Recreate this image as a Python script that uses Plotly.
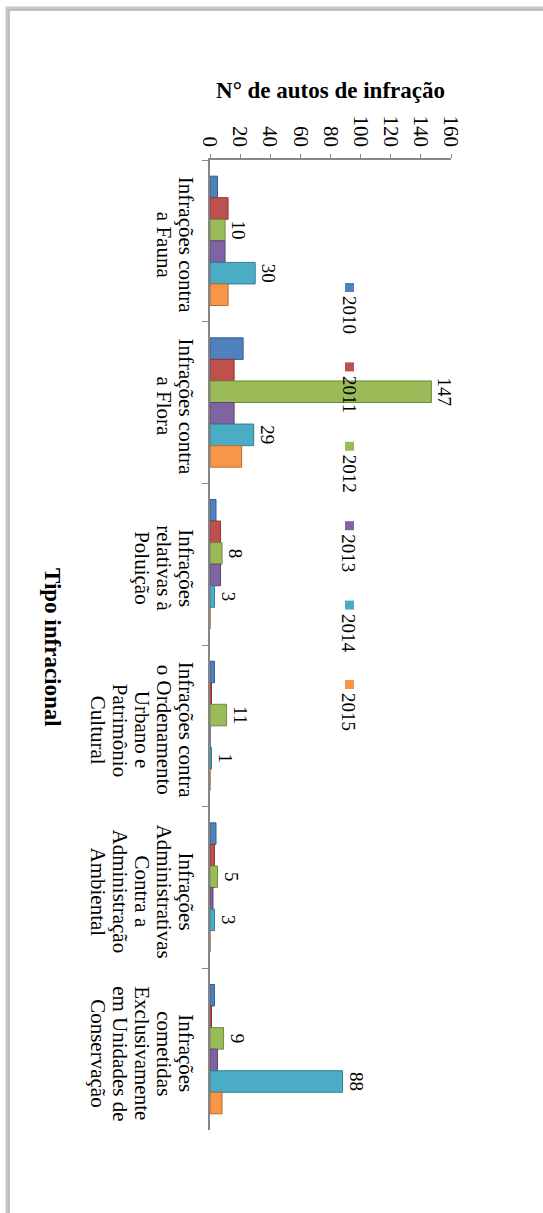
import plotly.graph_objects as go

# Categories of infraction (wrapped labels for the category axis)
categorias = [
    "Infrações contra<br>a Fauna",
    "Infrações contra<br>a Flora",
    "Infrações<br>relativas à<br>Poluição",
    "Infrações contra<br>o Ordenamento<br>Urbano e<br>Patrimônio<br>Cultural",
    "Infrações<br>Administrativas<br>Contra a<br>Administração<br>Ambiental",
    "Infrações<br>cometidas<br>Exclusivamente<br>em Unidades de<br>Conservação",
]

anos = ["2010", "2011", "2012", "2013", "2014", "2015"]

v2010 = [5, 22, 4, 3, 4, 3]
v2011 = [12, 16, 7, 1, 3, 1]
v2012 = [10, 147, 8, 11, 5, 9]
v2013 = [10, 16, 7, 0, 2, 5]
v2014 = [30, 29, 3, 1, 3, 88]
v2015 = [12, 21, 0, 0, 0, 8]

series = [v2010, v2011, v2012, v2013, v2014, v2015]
rotulados = {"2012", "2014"}  # series with data labels

cores = ["#4F81BD", "#C0504D", "#9BBB59", "#8064A2", "#4BACC6", "#F79646"]
bordas = ["#385D8A", "#8C3836", "#71893F", "#5C4776", "#357D91", "#B66D31"]

ticks_valor = [0, 20, 40, 60, 80, 100, 120, 140, 160]

W, H = 543, 1213
ML, MR, MT, MB = 210, 92, 160, 83
PW, PH = W - ML - MR, H - MT - MB

def px_x(p):
    return (p - ML) / PW

def px_y(p):
    return 1 - (p - MT) / PH

SERIF = "Liberation Serif, Times New Roman, serif"

fig = go.Figure()
for ano, vals, cor, borda in zip(anos, series, cores, bordas):
    fig.add_trace(go.Bar(
        name=ano,
        y=categorias,
        x=vals,
        orientation="h",
        marker=dict(color=cor, line=dict(color=borda, width=1)),
        text=[str(v) for v in vals] if ano in rotulados else None,
        textposition="outside",
        textangle=90,
        constraintext="none",
        cliponaxis=False,
        textfont=dict(family=SERIF, size=19, color="#000000"),
        showlegend=False,
    ))

# Category labels: one rotated line of text per row, tightly spaced
for cat in categorias:
    for j, linha in enumerate(cat.split("<br>")):
        fig.add_annotation(
            x=px_x(186 - 22 * j), xref="paper", y=cat, yref="y",
            xanchor="center", yanchor="middle", yshift=-4,
            text=linha, textangle=90, showarrow=False,
            font=dict(family=SERIF, size=21, color="#000000"),
        )

# Legend: coloured key square followed by rotated year text
for i, (ano, cor) in enumerate(zip(anos, cores)):
    topo = 283 + i * 79.4
    fig.add_shape(
        type="rect", xref="paper", yref="paper",
        x0=px_x(345), x1=px_x(354), y0=px_y(topo + 9), y1=px_y(topo),
        fillcolor=cor, line=dict(width=0),
    )
    fig.add_annotation(
        x=px_x(349), y=px_y(topo + 11), xref="paper", yref="paper",
        xanchor="center", yanchor="top",
        text=ano, textangle=90, showarrow=False,
        font=dict(family=SERIF, size=19, color="#000000"),
    )

# Category-axis title
fig.add_annotation(
    x=px_x(53), y=px_y(647), xref="paper", yref="paper",
    xanchor="center", yanchor="middle",
    text="<b>Tipo infracional</b>", textangle=90, showarrow=False,
    font=dict(family=SERIF, size=23, color="#000000"),
)

# Chart frame
fig.add_shape(type="rect", xref="paper", yref="paper",
              x0=px_x(7), x1=px_x(600), y0=px_y(1300), y1=px_y(8),
              line=dict(color="#C8C8C8", width=3), layer="below")
fig.add_shape(type="rect", xref="paper", yref="paper",
              x0=px_x(9), x1=px_x(600), y0=px_y(1300), y1=px_y(10),
              line=dict(color="#8C8C8C", width=1), layer="below")

fig.update_layout(
    width=W, height=H,
    margin=dict(l=ML, r=MR, t=MT, b=MB),
    paper_bgcolor="#FFFFFF", plot_bgcolor="#FFFFFF",
    barmode="group", bargap=0.2, bargroupgap=0,
    font=dict(family=SERIF, size=19, color="#000000"),
    xaxis=dict(
        side="top", range=[0, 160], tickvals=ticks_valor,
        tickangle=90, ticks="outside", ticklen=4, tickcolor="#868686",
        showline=True, linecolor="#868686", linewidth=1.5,
        showgrid=False, zeroline=False,
        tickfont=dict(family=SERIF, size=21, color="#000000"),
        title=dict(text="<b>N° de autos de infração</b>", standoff=10,
                   font=dict(family=SERIF, size=23, color="#000000")),
    ),
    yaxis=dict(
        autorange="reversed", showticklabels=False,
        ticks="outside", tickson="boundaries", ticklen=6, tickcolor="#868686",
        showline=True, linecolor="#868686", linewidth=1.5,
        showgrid=False,
    ),
)

fig.write_html("out.html")
